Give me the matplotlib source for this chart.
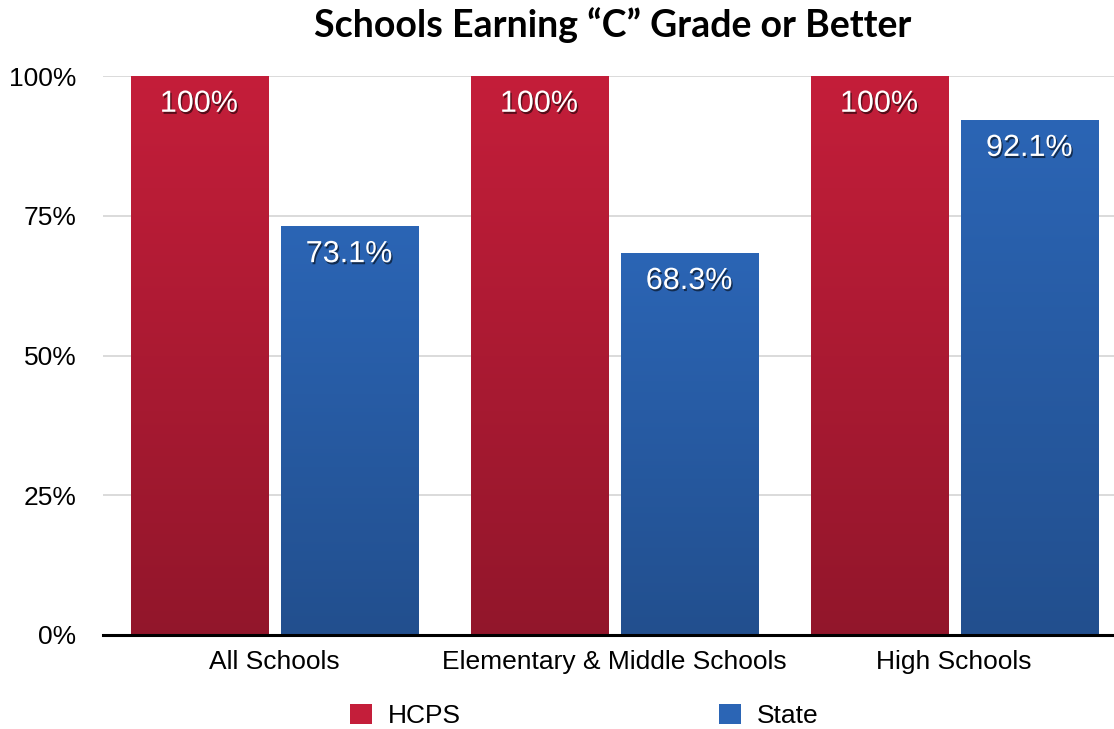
import numpy as np
import matplotlib
matplotlib.use("Agg")
import matplotlib.pyplot as plt
import matplotlib.patheffects as pe
from matplotlib.colors import LinearSegmentedColormap
from matplotlib.patches import Patch

# Datos
categorias = ["All Schools", "Elementary & Middle Schools", "High Schools"]
hcps = [100, 100, 100]
estado = [73.1, 68.3, 92.1]
etiquetas_hcps = ["100%", "100%", "100%"]
etiquetas_estado = ["73.1%", "68.3%", "92.1%"]
ticks_y = [0, 25, 50, 75, 100]

rojo_arriba, rojo_abajo = "#c41e3a", "#92162b"
azul_arriba, azul_abajo = "#2b65b5", "#224f8e"

plt.rcParams['font.family'] = ['Liberation Sans', 'DejaVu Sans']

fig = plt.figure(figsize=(11.14, 7.29), dpi=100)
ax = fig.add_axes([103/1114, 1 - 635/729, 1 - 103/1114, (635 - 76)/729])

x = np.arange(len(categorias))
ancho = 0.403
sep = 0.019

barras_h = ax.bar(x - ancho/2 - sep, hcps, ancho, color=rojo_arriba, zorder=2)
barras_s = ax.bar(x + ancho/2 + sep, estado, ancho, color=azul_arriba, zorder=2)

# Degradado dentro de cada barra
def degradar(barras, c_arriba, c_abajo):
    cmap = LinearSegmentedColormap.from_list("g", [c_abajo, c_arriba])
    grad = np.linspace(0, 1, 256).reshape(-1, 1)
    for b in barras:
        x0, y0 = b.get_x(), b.get_y()
        x1, y1 = x0 + b.get_width(), y0 + b.get_height()
        im = ax.imshow(grad, extent=[x0, x1, y0, y1], origin="lower",
                       aspect="auto", cmap=cmap, zorder=3)
        im.set_clip_path(b)

degradar(barras_h, rojo_arriba, rojo_abajo)
degradar(barras_s, azul_arriba, azul_abajo)

sombra = [pe.SimplePatchShadow(offset=(1, -1.5), shadow_rgbFace="black", alpha=0.55), pe.Normal()]
for b, t in list(zip(barras_h, etiquetas_hcps)) + list(zip(barras_s, etiquetas_estado)):
    ax.annotate(t, (b.get_x() + b.get_width()/2, b.get_height()),
                xytext=(0, -20), textcoords="offset points", ha="center", va="center",
                color="white", fontsize=22, zorder=5, path_effects=sombra)

ax.set_xlim(-0.503, 2.47)
ax.set_ylim(0, 100)
ax.set_yticks(ticks_y)
ax.set_yticklabels([f"{v}%" for v in ticks_y], fontsize=19)
ax.set_xticks(x)
ax.set_xticklabels(categorias, fontsize=19)
ax.tick_params(axis="both", length=0)
ax.tick_params(axis="y", pad=19)
ax.tick_params(axis="x", pad=11)
ax.yaxis.grid(True, color="#d4d4d4", linewidth=1.2, zorder=0)
ax.set_axisbelow(True)
for s in ["top", "right", "left"]:
    ax.spines[s].set_visible(False)
ax.spines["bottom"].set_linewidth(2.2)
ax.spines["bottom"].set_zorder(6)

fig.text(613/1114, 1 - 25/729, "Schools Earning \u201cC\u201d Grade or Better", ha="center", va="center",
         fontsize=27, fontweight="bold", family=["Lato", "DejaVu Sans"])

manijas = [Patch(facecolor=rojo_arriba, label="HCPS"), Patch(facecolor=azul_arriba, label="State")]
fig.legend(handles=manijas, loc="center left", bbox_to_anchor=(350/1114, 1 - 716/729),
           ncol=2, frameon=False, fontsize=19, handlelength=0.83, handleheight=0.83,
           handletextpad=0.6, columnspacing=9.8, borderpad=0, borderaxespad=0)

fig.savefig("out.png", dpi=100)
